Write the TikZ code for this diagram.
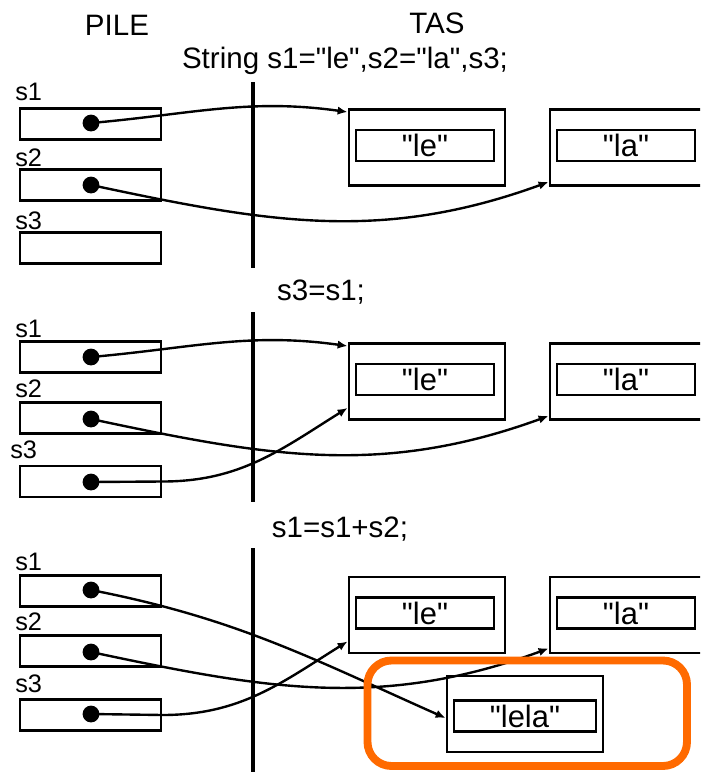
\documentclass[tikz,border=0pt]{standalone}
\usepackage{fontspec}
\setmainfont{Liberation Sans}[Ligatures=TeXOff]
\usetikzlibrary{positioning, arrows.meta, calc}
\definecolor{hlorange}{HTML}{FF6A00}

\begin{document}
\begin{tikzpicture}[
    x=0.025cm, y=-0.025cm,
    every node/.style={inner sep=0pt},
    heading/.style={font=\fontsize{21}{24}\selectfont},
    varname/.style={font=\fontsize{18}{20}\selectfont, anchor=base west},
    cell/.style={draw, line width=2.1pt, minimum width=3.525cm, minimum height=0.775cm},
    obj/.style={draw, line width=2.1pt, minimum width=3.9cm, minimum height=1.9cm},
    val/.style={draw, line width=2.1pt, minimum width=3.45cm, minimum height=0.775cm,
      font=\fontsize{22}{24}\selectfont},
    ptrdot/.style={circle, fill, minimum size=0.42cm},
    pointer/.style={line width=1.7pt, -{Latex[length=7pt,width=6pt]}},
    divider/.style={line width=2.2pt},
  ]
  \clip (0,0) rectangle (700,772);

  % column titles
  \node[heading] (pile) at (117,25) {PILE};
  \node[heading] (tas) at (437,23) {TAS};

  % --- declaration
  \node[heading] (declA) at (345,61) {String s1="le",s2="la",s3;};
  \draw[divider] (253,82) -- (253,268);
  \foreach \v/\y/\b in {1/124/100, 2/185/166, 3/248/229} {
    \node[cell] (cellA\v) at (90.5,\y) {};
    \node[varname] (nameA\v) at (15,\b) {s\v};
  }
  \node[ptrdot] (dotA1) at (91,123) {};
  \node[ptrdot] (dotA2) at (91,185) {};
  \node[obj] (leA) at (427,147.5) {};
  \node[val] (leAv) at ($(leA)+(-2,-2)$) {"le"};
  \node[obj] (laA) at (628,147.5) {};
  \node[val] (laAv) at ($(laA)+(-2,-2)$) {"la"};
  \draw[pointer] (dotA1.center) to[out=5, in=172] ($(leA.north west)+(0,4)$);
  \draw[pointer] (dotA2.center) to[out=-12, in=200] ($(laA.south west)+(0,-5)$);

  % --- s3=s1;
  \node[heading] (assignB) at (321,292) {s3=s1;};
  \draw[divider] (253,312) -- (253,502);
  \foreach \v/\y/\b in {1/357/337, 2/418/397, 3/481.5/458} {
    \node[cell] (cellB\v) at (90.5,\y) {};
  }
  \node[varname] (nameB1) at (15,337) {s1};
  \node[varname] (nameB2) at (15,397) {s2};
  \node[varname] (nameB3) at (10,458) {s3};
  \node[ptrdot] (dotB1) at (91,357) {};
  \node[ptrdot] (dotB2) at (91,419) {};
  \node[ptrdot] (dotB3) at (91,482) {};
  \node[obj] (leB) at (427,381.5) {};
  \node[val] (leBv) at ($(leB)+(-2,-2)$) {"le"};
  \node[obj] (laB) at (628,381.5) {};
  \node[val] (laBv) at ($(laB)+(-2,-2)$) {"la"};
  \draw[pointer] (dotB1.center) to[out=5, in=172] ($(leB.north west)+(0,4)$);
  \draw[pointer] (dotB2.center) to[out=-12, in=200] ($(laB.south west)+(0,-5)$);
  \draw[pointer] (dotB3.center) -- (cellB3.east) to[out=0, in=212] ($(leB.south west)+(0,-13)$);

  % --- s1=s1+s2;
  \node[heading] (assignC) at (340,529) {s1=s1+s2;};
  \draw[divider] (253,548) -- (253,772);
  \foreach \v/\y/\b in {1/591/570, 2/651/630, 3/715/692} {
    \node[cell] (cellC\v) at (90.5,\y) {};
    \node[varname] (nameC\v) at (15,\b) {s\v};
  }
  \node[ptrdot] (dotC1) at (91,590) {};
  \node[ptrdot] (dotC2) at (91,652) {};
  \node[ptrdot] (dotC3) at (91,714) {};
  \node[obj] (leC) at (427,615) {};
  \node[val] (leCv) at ($(leC)+(-2,-2)$) {"le"};
  \node[obj] (laC) at (628,615) {};
  \node[val] (laCv) at ($(laC)+(-2,-2)$) {"la"};
  \node[obj] (lelaC) at (525,714) {};
  \node[val, minimum width=3.55cm] (lelaCv) at ($(lelaC)+(0,2)$) {"lela"};
  \draw[pointer] (dotC1.center) to[out=-11, in=156] ($(lelaC.west)+(0,4)$);
  \draw[pointer] (dotC2.center) to[out=-12, in=200] ($(laC.south west)+(0,-6)$);
  \draw[pointer] (dotC3.center) -- (cellC3.east) to[out=0, in=212] ($(leC.south west)+(0,-13)$);

  % highlight of the new object
  \draw[hlorange, line width=5.6pt, rounded corners=0.6cm] (367.5,660.5) rectangle (687,766);
\end{tikzpicture}
\end{document}
